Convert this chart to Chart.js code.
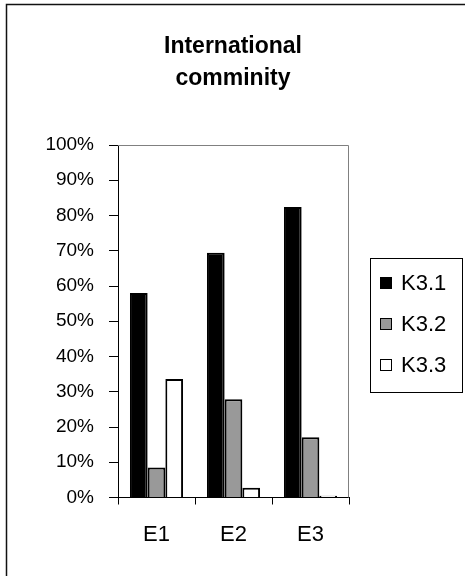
<!DOCTYPE html>
<html>
<head>
<meta charset="utf-8">
<style>
  html, body { margin: 0; padding: 0; background: #ffffff; }
  #wrap { position: relative; width: 465px; height: 576px; }
</style>
<script src="https://cdn.jsdelivr.net/npm/chart.js@4.4.1/dist/chart.umd.min.js"></script>
</head>
<body>
<div id="wrap"><canvas id="chart" width="465" height="576"></canvas></div>
<script>
// Survey results: share of answers per question group (E1–E3)
const titleLines = ['International', 'comminity'];
const categories = ['E1', 'E2', 'E3'];
const seriesNames = ['K3.1', 'K3.2', 'K3.3'];
const k31 = [58.0, 69.4, 82.4];
const k32 = [8.5, 27.9, 17.1];
const k33 = [33.6, 2.8, 0.5];
const yTicks = [0, 10, 20, 30, 40, 50, 60, 70, 80, 90, 100];

const seriesValues = [k31, k32, k33];
const fills = ['#000000', '#999999', '#ffffff'];
const FONT = '"Liberation Sans", Arial, sans-serif';

// Outer frame, plot-area border, title and boxed legend
const decorations = {
  id: 'decorations',
  afterDraw(chart) {
    const ctx = chart.ctx;
    const a = chart.chartArea;
    ctx.save();
    // outer frame (runs off the right and bottom of the canvas)
    ctx.strokeStyle = '#111111';
    ctx.lineWidth = 1.5;
    ctx.strokeRect(6.5, 4.5, 600, 700);

    // grey top and right edges of the plot area
    ctx.strokeStyle = '#808080';
    ctx.lineWidth = 1;
    ctx.beginPath();
    ctx.moveTo(a.left, a.top + 0.5);
    ctx.lineTo(a.right - 0.5, a.top + 0.5);
    ctx.lineTo(a.right - 0.5, a.bottom);
    ctx.stroke();

    // title
    ctx.fillStyle = '#000000';
    ctx.font = 'bold 23px ' + FONT;
    ctx.textAlign = 'center';
    ctx.textBaseline = 'middle';
    titleLines.forEach((t, i) => ctx.fillText(t, 233, 47 + i * 32));

    // legend
    ctx.strokeStyle = '#000000';
    ctx.lineWidth = 1;
    ctx.strokeRect(370.5, 258.5, 92, 134);
    ctx.font = '22px ' + FONT;
    ctx.textAlign = 'left';
    chart.data.datasets.forEach((ds, i) => {
      const cy = 283 + i * 41;
      ctx.fillStyle = ds.backgroundColor;
      ctx.fillRect(380, cy - 6, 12, 12);
      ctx.strokeStyle = '#000000';
      ctx.lineWidth = 1;
      ctx.strokeRect(380.5, cy - 5.5, 11, 11);
      ctx.fillStyle = '#000000';
      ctx.fillText(ds.label, 401, cy + 1);
    });
    ctx.restore();
  }
};

new Chart(document.getElementById('chart'), {
  type: 'bar',
  data: {
    labels: categories,
    datasets: seriesNames.map((name, i) => ({
      label: name,
      data: seriesValues[i],
      backgroundColor: fills[i],
      borderColor: '#000000',
      borderWidth: 2,
      categoryPercentage: 0.69,
      barPercentage: 1.0
    }))
  },
  options: {
    responsive: false,
    animation: false,
    devicePixelRatio: 1,
    layout: { padding: { top: 145, right: 116, bottom: 0, left: 0 } },
    plugins: {
      legend: { display: false },
      title: { display: false },
      tooltip: { enabled: false }
    },
    scales: {
      x: {
        offset: true,
        afterFit(scale) { scale.height = 78.5; },
        grid: {
          offset: true,
          drawOnChartArea: false,
          drawTicks: true,
          tickLength: 7,
          color: '#000000'
        },
        border: { display: true, color: '#000000', width: 1 },
        ticks: {
          color: '#000000',
          padding: 17,
          font: { family: FONT, size: 22 }
        }
      },
      y: {
        min: 0,
        max: 100,
        afterFit(scale) { scale.width = 118; },
        afterBuildTicks(scale) { scale.ticks = yTicks.map(v => ({ value: v })); },
        grid: {
          drawOnChartArea: false,
          drawTicks: true,
          tickLength: 9,
          color: '#000000'
        },
        border: { display: true, color: '#000000', width: 1 },
        ticks: {
          color: '#000000',
          padding: 15,
          font: { family: FONT, size: 19 },
          callback: v => v + '%'
        }
      }
    }
  },
  plugins: [decorations]
});
</script>
</body>
</html>
